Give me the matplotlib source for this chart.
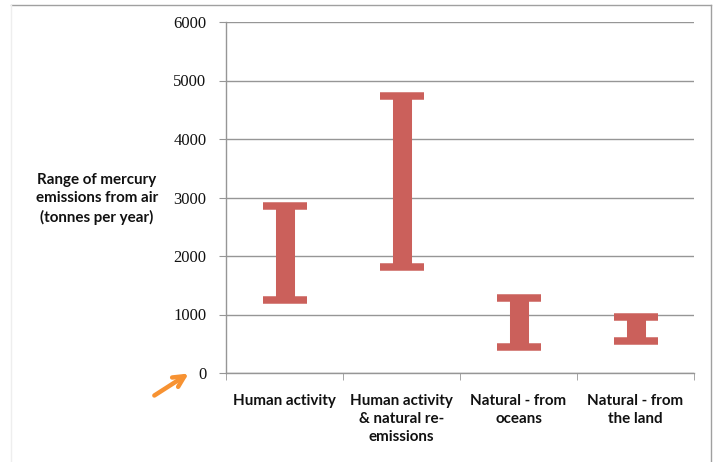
import matplotlib
matplotlib.use("Agg")
import matplotlib.pyplot as plt
from matplotlib.lines import Line2D

# emission ranges, tonnes per year
categories = ["Human activity", "Human activity\n& natural re-\nemissions",
              "Natural - from\noceans", "Natural - from\nthe land"]
low = [1250, 1810, 440, 550]
high = [2860, 4740, 1280, 960]
y_ticks = [0, 1000, 2000, 3000, 4000, 5000, 6000]

bar_color = "#CB605B"
axis_gray = "#969696"

fig = plt.figure(figsize=(7.17, 4.62), dpi=100)
ax = fig.add_axes([226 / 717, 1 - 373 / 462, (694 - 226) / 717, (373 - 22) / 462])

x = list(range(len(categories)))
mid = [(l + h) / 2 for l, h in zip(low, high)]
half = [(h - l) / 2 for l, h in zip(low, high)]
ax.errorbar(x, mid, yerr=half, fmt="none", ecolor=bar_color,
            elinewidth=13.7, capsize=15.8, capthick=5.4)

ax.set_xlim(-0.5, len(categories) - 0.5)
ax.set_ylim(0, 6000)
ax.set_yticks(y_ticks)
ax.set_yticklabels([str(v) for v in y_ticks], family="Liberation Serif",
                   fontsize=12, color="#111111")
ax.set_xticks(x)
ax.set_xticklabels(categories, family="Lato", fontweight="bold",
                   fontsize=10.9, color="#111111", linespacing=1.38)
ax.set_xticks([i - 0.5 for i in range(len(categories) + 1)], minor=True)
ax.tick_params(axis="x", which="major", length=0, pad=15)
ax.tick_params(axis="x", which="minor", length=5, color=axis_gray, direction="out")
ax.tick_params(axis="y", length=5, color=axis_gray, direction="out", pad=9)

ax.grid(axis="y", color=axis_gray, linewidth=1)
ax.set_axisbelow(True)
for side in ["top", "right"]:
    ax.spines[side].set_visible(False)
for side in ["left", "bottom"]:
    ax.spines[side].set_color(axis_gray)
    ax.spines[side].set_linewidth(1)

fig.text(97 / 717, 1 - 199 / 462,
         "Range of mercury\nemissions from air\n(tonnes per year)",
         family="Lato", fontweight="bold", fontsize=10.9, color="#111111",
         ha="center", va="center", linespacing=1.38)

# orange pointer at the zero line
ax.annotate("", xy=(191, 462 - 372), xycoords="figure pixels",
            xytext=(152, 462 - 397), textcoords="figure pixels",
            arrowprops=dict(arrowstyle="->", color="#F79232", lw=3.2,
                            mutation_scale=20))

# outer frame
fig.add_artist(Line2D([11 / 717, 711 / 717], [1 - 5 / 462, 1 - 5 / 462],
                      transform=fig.transFigure, color="#A0A0A0", lw=1))
fig.add_artist(Line2D([711 / 717, 711 / 717], [1 - 5 / 462, 0],
                      transform=fig.transFigure, color="#A0A0A0", lw=1))
fig.add_artist(Line2D([11 / 717, 11 / 717], [1 - 5 / 462, 0],
                      transform=fig.transFigure, color="#EEEEEE", lw=1))

fig.savefig("out.png", dpi=100)
